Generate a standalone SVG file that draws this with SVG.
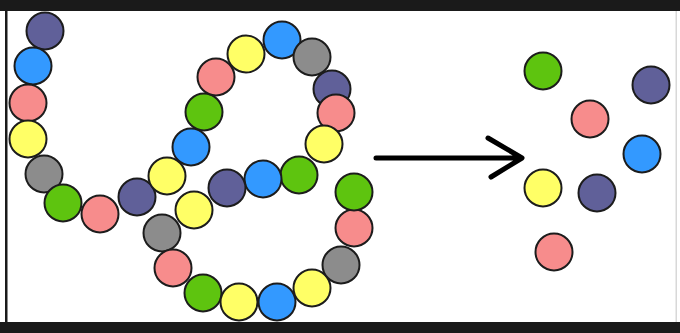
<svg xmlns="http://www.w3.org/2000/svg" width="680" height="333" viewBox="0 0 680 333">
<style>
circle{stroke:#1c1c1c;stroke-width:2}
.n{fill:#606099}.b{fill:#3399ff}.p{fill:#f78c8c}.y{fill:#ffff66}.g{fill:#8c8c8c}.gr{fill:#5ec40f}
</style>
<rect x="0" y="0" width="680" height="333" fill="#ffffff"/>
<rect x="0" y="0" width="680" height="11" fill="#1a1a1a"/>
<rect x="0" y="322" width="680" height="11" fill="#1a1a1a"/>
<rect x="5" y="11" width="2.5" height="311" fill="#1a1a1a"/>
<rect x="675.5" y="11" width="1.5" height="311" fill="#d8d8d8"/>
<g id="chain">
<circle class="n" cx="45" cy="31" r="18.5"/>
<circle class="b" cx="33" cy="66" r="18.5"/>
<circle class="p" cx="28" cy="103" r="18.5"/>
<circle class="y" cx="28" cy="139" r="18.5"/>
<circle class="g" cx="44" cy="174" r="18.5"/>
<circle class="gr" cx="63" cy="203" r="18.5"/>
<circle class="p" cx="100" cy="214" r="18.5"/>
<circle class="n" cx="137" cy="197" r="18.5"/>
<circle class="y" cx="167" cy="176" r="18.5"/>
<circle class="b" cx="191" cy="147" r="18.5"/>
<circle class="gr" cx="204" cy="112" r="18.5"/>
<circle class="p" cx="216" cy="77" r="18.5"/>
<circle class="y" cx="246" cy="54" r="18.5"/>
<circle class="b" cx="282" cy="40" r="18.5"/>
<circle class="g" cx="312" cy="57" r="18.5"/>
<circle class="n" cx="332" cy="89" r="18.5"/>
<circle class="p" cx="336" cy="113" r="18.5"/>
<circle class="y" cx="324" cy="144" r="18.5"/>
<circle class="gr" cx="299" cy="175" r="18.5"/>
<circle class="b" cx="263" cy="179" r="18.5"/>
<circle class="n" cx="227" cy="188" r="18.5"/>
<circle class="y" cx="194" cy="210" r="18.5"/>
<circle class="g" cx="162" cy="233" r="18.5"/>
<circle class="p" cx="173" cy="268" r="18.5"/>
<circle class="gr" cx="203" cy="293" r="18.5"/>
<circle class="y" cx="239" cy="302" r="18.5"/>
<circle class="b" cx="277" cy="302" r="18.5"/>
<circle class="y" cx="312" cy="288" r="18.5"/>
<circle class="g" cx="341" cy="265" r="18.5"/>
<circle class="p" cx="354" cy="228" r="18.5"/>
<circle class="gr" cx="354" cy="192" r="18.5"/>
</g>
<g id="connectors">
<path d="M376 158 H521 M488 138 L522 158 L491 177" fill="none" stroke="#000" stroke-width="5" stroke-linecap="round" stroke-linejoin="round"/>
</g>
<g id="loose">
<circle class="gr" cx="543" cy="71" r="18.5"/>
<circle class="n" cx="651" cy="85" r="18.5"/>
<circle class="p" cx="590" cy="119" r="18.5"/>
<circle class="b" cx="642" cy="154" r="18.5"/>
<circle class="y" cx="543" cy="188" r="18.5"/>
<circle class="n" cx="597" cy="193" r="18.5"/>
<circle class="p" cx="554" cy="252" r="18.5"/>
</g>
</svg>
